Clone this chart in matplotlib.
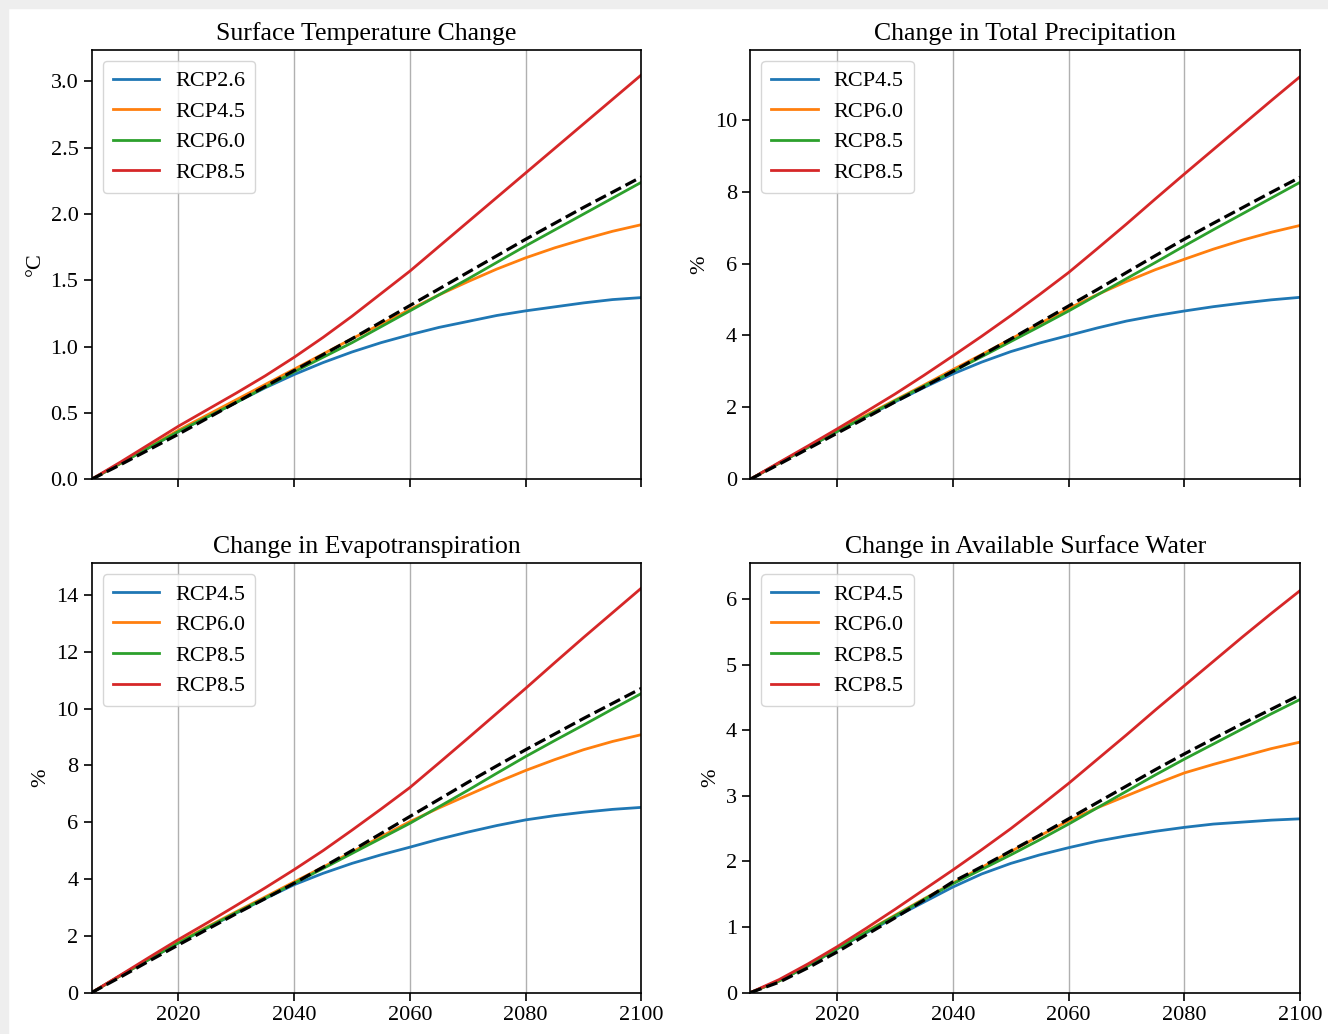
import numpy as np
import matplotlib.pyplot as plt
import matplotlib.patches as mpatches

# ============================================
# Data (every 5 years)
# ============================================
years = list(range(2005, 2101, 5))

titles = ['Surface Temperature Change', 'Change in Total Precipitation',
          'Change in Evapotranspiration', 'Change in Available Surface Water']
ylabels = ['°C', '%', '%', '%']
labels_temp = ['RCP2.6', 'RCP4.5', 'RCP6.0', 'RCP8.5']
labels_other = ['RCP4.5', 'RCP6.0', 'RCP8.5', 'RCP8.5']

# Surface temperature change (°C)
temp_blue = [0, .12, .24, .36, .47, .58, .69, .79, .88, .96, 1.03, 1.09, 1.145, 1.19, 1.235,
             1.27, 1.30, 1.33, 1.355, 1.37]
temp_orange = [0, .12, .245, .37, .485, .60, .715, .83, .945, 1.06, 1.17, 1.28, 1.39, 1.49,
               1.585, 1.67, 1.745, 1.81, 1.87, 1.92]
temp_green = [0, .12, .24, .36, .47, .58, .695, .81, .92, 1.03, 1.15, 1.27, 1.39, 1.51, 1.635,
              1.76, 1.88, 2.00, 2.12, 2.24]
temp_red = [0, .13, .265, .40, .525, .65, .78, .92, 1.07, 1.23, 1.40, 1.57, 1.755, 1.94, 2.125,
            2.31, 2.495, 2.68, 2.865, 3.05]
temp_black = [0, .11, .225, .34, .46, .58, .70, .82, .94, 1.06, 1.185, 1.31, 1.435, 1.56, 1.685,
              1.81, 1.93, 2.05, 2.165, 2.28]

# Total precipitation change (%)
prec_blue = [0, .45, .89, 1.33, 1.74, 2.15, 2.55, 2.93, 3.26, 3.55, 3.79, 4.00, 4.21, 4.40, 4.55,
             4.68, 4.80, 4.90, 4.99, 5.06]
prec_orange = [0, .45, .90, 1.35, 1.78, 2.20, 2.62, 3.05, 3.47, 3.90, 4.33, 4.75, 5.14, 5.50,
               5.83, 6.12, 6.40, 6.65, 6.87, 7.06]
prec_green = [0, .45, .89, 1.33, 1.75, 2.18, 2.59, 3.00, 3.41, 3.83, 4.25, 4.68, 5.13, 5.58,
              6.03, 6.49, 6.94, 7.38, 7.82, 8.26]
prec_red = [0, .47, .93, 1.40, 1.88, 2.37, 2.89, 3.43, 3.98, 4.55, 5.14, 5.75, 6.42, 7.10, 7.80,
            8.49, 9.17, 9.85, 10.53, 11.20]
prec_black = [0, .42, .85, 1.28, 1.71, 2.15, 2.57, 3.00, 3.45, 3.90, 4.36, 4.82, 5.28, 5.75,
              6.22, 6.68, 7.12, 7.55, 7.98, 8.40]

# Evapotranspiration change (%)
evap_blue = [0, .60, 1.18, 1.75, 2.28, 2.80, 3.31, 3.80, 4.20, 4.55, 4.85, 5.12, 5.40, 5.65,
             5.88, 6.08, 6.23, 6.35, 6.45, 6.52]
evap_orange = [0, .60, 1.19, 1.78, 2.32, 2.85, 3.37, 3.90, 4.42, 4.95, 5.49, 6.02, 6.50, 6.95,
               7.40, 7.82, 8.20, 8.55, 8.84, 9.08]
evap_green = [0, .60, 1.18, 1.75, 2.29, 2.82, 3.33, 3.85, 4.37, 4.90, 5.43, 5.96, 6.54, 7.12,
              7.72, 8.31, 8.87, 9.42, 9.98, 10.53]
evap_red = [0, .62, 1.25, 1.87, 2.46, 3.07, 3.69, 4.33, 5.00, 5.72, 6.46, 7.22, 8.08, 8.95,
            9.83, 10.71, 11.61, 12.50, 13.37, 14.24]
evap_black = [0, .55, 1.12, 1.68, 2.23, 2.78, 3.31, 3.85, 4.42, 5.00, 5.60, 6.20, 6.80, 7.40,
              7.98, 8.55, 9.10, 9.65, 10.18, 10.71]

# Available surface water change (%)
water_blue = [0, .18, .41, .67, .91, 1.15, 1.38, 1.61, 1.81, 1.97, 2.10, 2.21, 2.31, 2.39, 2.46,
              2.52, 2.57, 2.60, 2.63, 2.65]
water_orange = [0, .18, .42, .68, .93, 1.18, 1.43, 1.67, 1.91, 2.15, 2.39, 2.62, 2.82, 3.00,
                3.18, 3.35, 3.48, 3.60, 3.72, 3.82]
water_green = [0, .18, .41, .67, .92, 1.17, 1.42, 1.66, 1.88, 2.10, 2.33, 2.57, 2.82, 3.07,
               3.32, 3.56, 3.79, 4.02, 4.25, 4.47]
water_red = [0, .20, .44, .70, .98, 1.27, 1.57, 1.87, 2.18, 2.50, 2.84, 3.19, 3.56, 3.93, 4.31,
             4.68, 5.05, 5.42, 5.78, 6.13]
water_black = [0, .16, .38, .62, .88, 1.14, 1.41, 1.69, 1.92, 2.16, 2.40, 2.65, 2.90, 3.15,
               3.40, 3.64, 3.87, 4.10, 4.32, 4.54]

panels = [
    (temp_blue, temp_orange, temp_green, temp_red, temp_black),
    (prec_blue, prec_orange, prec_green, prec_red, prec_black),
    (evap_blue, evap_orange, evap_green, evap_red, evap_black),
    (water_blue, water_orange, water_green, water_red, water_black),
]
ylims = [3.24, 11.95, 15.12, 6.55]
yticks = [np.arange(0, 3.01, 0.5), np.arange(0, 11, 2), np.arange(0, 15, 2), np.arange(0, 7, 1)]
colors = ['tab:blue', 'tab:orange', 'tab:green', 'tab:red']

# ============================================
# Figure
# ============================================
plt.rcParams['font.family'] = ['Liberation Serif', 'DejaVu Serif']
plt.rcParams['font.size'] = 16

fig, axes = plt.subplots(2, 2, figsize=(13.28, 10.34), dpi=100, sharex=True)
fig.subplots_adjust(left=0.069, right=0.979, top=0.952, bottom=0.040,
                    wspace=0.198, hspace=0.195)

# light grey screenshot frame on top/left edges
fig.patches.append(mpatches.Rectangle((0, 1 - 8 / 1034), 1, 8 / 1034, transform=fig.transFigure,
                                      color='#eeeeee', zorder=-1))
fig.patches.append(mpatches.Rectangle((0, 0), 8 / 1328, 1, transform=fig.transFigure,
                                      color='#eeeeee', zorder=-1))

for i, ax in enumerate(axes.flat):
    series = panels[i]
    labels = labels_temp if i == 0 else labels_other
    for vals, col, lab in zip(series[:4], colors, labels):
        ax.plot(years, vals, color=col, lw=2, label=lab)
    ax.plot(years, series[4], color='black', lw=2.3, ls='--')

    ax.set_title(titles[i], fontsize=18.5, pad=7)
    ax.set_ylabel(ylabels[i], fontsize=16)
    ax.set_xlim(2005, 2100)
    ax.set_ylim(0, ylims[i])
    ax.set_yticks(yticks[i])
    if i == 0:
        ax.set_yticklabels([f'{v:.1f}' for v in yticks[i]])
    ax.set_xticks([2020, 2040, 2060, 2080, 2100])
    ax.grid(axis='x', color='#b0b0b0', lw=1)
    ax.tick_params(length=6, width=1.2, labelsize=16)
    for s in ax.spines.values():
        s.set_linewidth(1.2)
    ax.legend(loc='upper left', fontsize=16, handlelength=2.1, handletextpad=0.7,
              borderpad=0.45, labelspacing=0.45)

plt.savefig('out.png', dpi=100)
plt.close()
